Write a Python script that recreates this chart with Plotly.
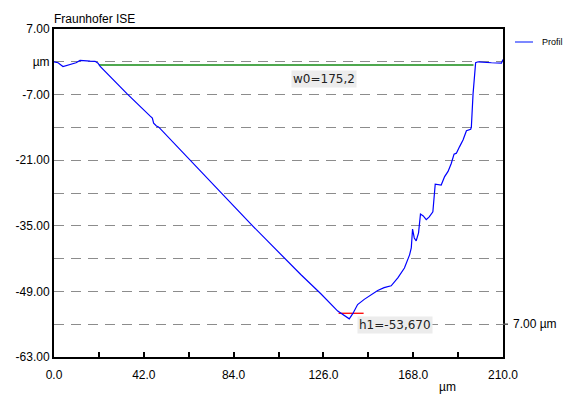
import plotly.graph_objects as go

# Profile data (x in µm, height in µm)
profil_x = [0.0, 1.9, 4.2, 6.1, 8.4, 10.3, 12.2, 14.1, 16.9, 19.2, 20.6, 21.6,
            34.1, 45.0, 46.0, 46.6, 47.9, 48.9, 71.7, 92.0, 115.4, 124.8, 132.7,
            135.2, 138.1, 139.8, 142.0, 145.1, 148.3, 151.4, 154.4, 157.7, 160.8,
            163.9, 166.3, 167.1, 167.7, 168.5, 169.4, 170.5, 171.4, 172.7, 174.1,
            175.5, 177.2, 178.0, 178.3, 181.1, 182.7, 184.3, 185.8, 187.1, 188.2,
            189.7, 191.3, 192.9, 194.9, 195.2, 196.0, 197.2, 198.4, 204.6, 209.3, 210.0]
profil_y = [0.0, -0.2, -1.0, -0.7, -0.5, -0.2, 0.3, 0.2, 0.15, 0.1, -0.3, -1.0,
            -6.8, -11.6, -12.0, -13.1, -13.7, -13.9, -24.9, -34.6, -45.4, -49.5, -53.2,
            -54.0, -54.85, -53.7, -51.8, -50.7, -49.7, -48.8, -48.2, -47.8, -46.1,
            -44.0, -41.2, -39.7, -35.7, -37.6, -38.2, -36.5, -32.5, -32.9, -33.7,
            -33.1, -32.0, -26.5, -26.1, -26.3, -24.5, -23.4, -21.7, -19.7, -19.5,
            -18.1, -16.7, -14.7, -14.4, -13.9, -6.8, -0.2, 0.0, -0.2, -0.26, 0.47]

# Measurements
w0_x = [21.0, 196.2]
w0_y = [-0.7, -0.7]
w0_label = "w0=175,2"
h1_x = [133.1, 144.8]
h1_y = [-53.67, -53.67]
h1_label = "h1=-53,670"

# Axis ticks
x_tickvals = [0, 21, 42, 63, 84, 105, 126, 147, 168, 189, 210]
x_ticktext = ["0.0", "", "42.0", "", "84.0", "", "126.0", "", "168.0", "", "210.0"]
y_tickvals = [7, 0, -7, -14, -21, -28, -35, -42, -49, -56, -63]
y_ticktext = ["7.00", "µm", "-7.00", "", "-21.00", "", "-35.00", "", "-49.00", "", "-63.00"]

FONT = "Liberation Sans, Arial, sans-serif"
PW = 574 - 54 - 71  # plot width in px
PH = 394 - 29 - 37  # plot height in px

fig = go.Figure()
fig.add_trace(go.Scatter(x=w0_x, y=w0_y, mode="lines",
                         line=dict(color="#4fa84f", width=2), showlegend=False))
fig.add_trace(go.Scatter(x=h1_x, y=h1_y, mode="lines",
                         line=dict(color="#ff0000", width=1.3), showlegend=False))
fig.add_trace(go.Scatter(x=profil_x, y=profil_y, mode="lines", name="Profil",
                         line=dict(color="#0000ff", width=1.2), showlegend=False))

fig.add_annotation(x=126.2, y=-3.57, text=w0_label, showarrow=False,
                   font=dict(family="DejaVu Sans", size=12, color="#222"),
                   bgcolor="#ececec", borderpad=1)
fig.add_annotation(x=159.5, y=-56.2, text=h1_label, showarrow=False,
                   font=dict(family="DejaVu Sans", size=12, color="#222"),
                   bgcolor="#ececec", borderpad=1)

# right-side marker label
fig.add_shape(type="line", xref="paper", yref="y", x0=1, x1=1 + 5 / PW, y0=-56, y1=-56,
              line=dict(color="#555", width=1.5))
fig.add_annotation(xref="paper", yref="y", x=1, y=-56, xanchor="left", xshift=8,
                   text="7.00 µm", showarrow=False,
                   font=dict(family=FONT, size=12, color="black"))
# x axis unit
fig.add_annotation(xref="paper", yref="paper", x=(458 - 54) / PW, y=-(387 - 357) / PH,
                   yanchor="middle", text="µm", showarrow=False,
                   font=dict(family=FONT, size=12, color="black"))

# legend (drawn manually in the right margin)
leg_y = 1 + (29 - 42) / PH
fig.add_shape(type="line", xref="paper", yref="paper",
              x0=(515 - 54) / PW, x1=(533 - 54) / PW, y0=leg_y, y1=leg_y,
              line=dict(color="#5060ff", width=1.5))
fig.add_annotation(xref="paper", yref="paper", x=(540 - 54) / PW, y=leg_y,
                   xanchor="left", yanchor="middle", text="Profil", showarrow=False,
                   font=dict(family=FONT, size=9, color="black"))

fig.update_layout(
    width=574, height=394,
    margin=dict(l=54, r=71, t=29, b=37),
    paper_bgcolor="white", plot_bgcolor="white",
    font=dict(family=FONT, size=12, color="black"),
    title=dict(text="Fraunhofer ISE", x=0, xref="paper", xanchor="left",
               y=1 - 19 / 394, yref="container", yanchor="middle",
               font=dict(family=FONT, size=12, color="black")),
    showlegend=False,
)
fig.update_xaxes(range=[0, 210], tickvals=x_tickvals, ticktext=x_ticktext,
                 ticks="inside", ticklen=5, tickwidth=2, tickcolor="black",
                 ticklabelstandoff=6,
                 showline=True, linecolor="black", linewidth=2, mirror=True,
                 showgrid=False, zeroline=False, automargin=False,
                 tickfont=dict(family=FONT, size=12, color="black"))
fig.update_yaxes(range=[-63, 7], tickvals=y_tickvals, ticktext=y_ticktext,
                 ticks="", showline=True, linecolor="black", linewidth=2, mirror=True,
                 showgrid=True, gridcolor="#8c8c8c", gridwidth=1.2, griddash="10px,7px",
                 zeroline=False, automargin=False,
                 tickfont=dict(family=FONT, size=12, color="black"))

fig.write_html("out.html", config={"displayModeBar": False},
               post_script="document.body.style.margin='0';document.body.style.overflow='hidden';")
